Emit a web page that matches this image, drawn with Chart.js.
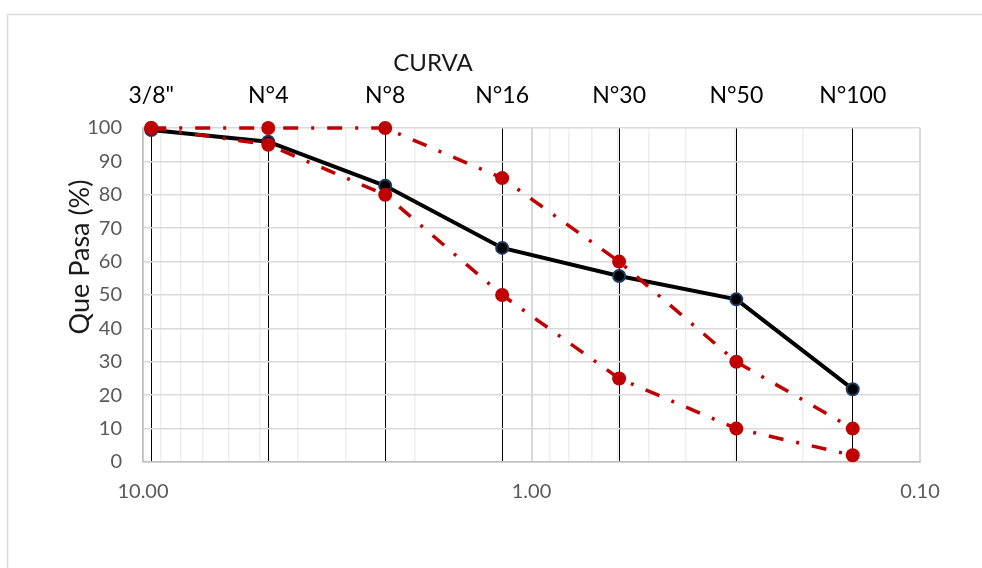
<!DOCTYPE html>
<html>
<head>
<meta charset="utf-8">
<script src="https://cdn.jsdelivr.net/npm/chart.js@4.4.1/dist/chart.umd.min.js"></script>
<style>
  html, body { margin: 0; padding: 0; background: #fff; }
  canvas { display: block; }
</style>
</head>
<body>
<canvas id="curva" width="982" height="568"></canvas>
<script>
// sieve openings (mm) and their names
const sieveSizes = [9.525, 4.76, 2.38, 1.19, 0.595, 0.297, 0.149];
const sieveLabels = ['3/8"', 'N°4', 'N°8', 'N°16', 'N°30', 'N°50', 'N°100'];

// % passing
const muestra = [99.4, 95.9, 82.7, 64.1, 55.7, 48.7, 21.8];
const limSup = [100, 100, 100, 85, 60, 30, 10];
const limInf = [100, 95, 80, 50, 25, 10, 2];

// bottom axis labels
const xLabelValues = [10, 1, 0.1];
const yTicks = [0, 10, 20, 30, 40, 50, 60, 70, 80, 90, 100];

const FONT = 'Lato, "Open Sans", sans-serif';
const RED = '#C00000';

function toPoints(vals) {
  return vals.map((v, i) => ({ x: sieveSizes[i], y: v }));
}

// log gridlines 0.1..10 (1..9 per decade)
function logGrid() {
  const out = [];
  [0.1, 1].forEach(d => {
    for (let m = 1; m <= 9; m++) out.push({ value: +(d * m).toFixed(3) });
  });
  out.push({ value: 10 });
  return out;
}

const decorations = {
  id: 'decorations',
  beforeDraw(chart) {
    const c = chart.ctx;
    c.save();
    c.strokeStyle = '#D9D9D9';
    c.lineWidth = 1.5;
    c.beginPath();
    c.moveTo(7.5, 568);
    c.lineTo(7.5, 14.5);
    c.lineTo(982, 14.5);
    c.stroke();
    c.restore();
  },
  afterDraw(chart) {
    const c = chart.ctx;
    c.save();
    c.fillStyle = '#1A1A1A';
    c.textAlign = 'center';
    c.textBaseline = 'middle';
    c.font = '24px ' + FONT;
    c.fillText('CURVA', 433, 63);
    c.translate(80, 257);
    c.rotate(-Math.PI / 2);
    c.font = '27px ' + FONT;
    c.fillText('Que Pasa (%)', 0, 0);
    c.restore();
  }
};

const chart = new Chart(document.getElementById('curva'), {
  type: 'line',
  data: {
    datasets: [
      {
        label: 'Muestra',
        data: toPoints(muestra),
        borderColor: '#000',
        borderWidth: 4,
        pointRadius: 6,
        pointBackgroundColor: '#000',
        pointBorderColor: '#1F3864',
        pointBorderWidth: 2,
        xAxisID: 'x', yAxisID: 'y',
        clip: false,
        order: 2
      },
      {
        label: 'Limite superior',
        data: toPoints(limSup),
        borderColor: RED,
        borderWidth: 3.5,
        borderDash: [15, 13, 3, 13],
        pointRadius: 7,
        pointBackgroundColor: RED,
        pointBorderColor: RED,
        pointBorderWidth: 0,
        xAxisID: 'x', yAxisID: 'y',
        clip: false,
        order: 1
      },
      {
        label: 'Limite inferior',
        data: toPoints(limInf),
        borderColor: RED,
        borderWidth: 3.5,
        borderDash: [15, 13, 3, 13],
        pointRadius: 7,
        pointBackgroundColor: RED,
        pointBorderColor: RED,
        pointBorderWidth: 0,
        xAxisID: 'x', yAxisID: 'y',
        clip: false,
        order: 1
      }
    ]
  },
  options: {
    responsive: false,
    animation: false,
    layout: { padding: { left: 0, right: 62, top: 0, bottom: 0 } },
    plugins: {
      legend: { display: false },
      tooltip: { enabled: false },
      title: { display: false }
    },
    scales: {
      x: {
        type: 'logarithmic',
        position: 'bottom',
        reverse: true,
        min: 0.1,
        max: 10,
        afterBuildTicks(scale) { scale.ticks = logGrid(); },
        afterFit(scale) { scale.height = 106; },
        border: { color: '#BFBFBF', width: 1.5 },
        grid: {
          drawTicks: false,
          color: ctx => (ctx.tick && xLabelValues.includes(ctx.tick.value)) ? '#D9D9D9' : '#EEEEEE',
          lineWidth: ctx => (ctx.tick && xLabelValues.includes(ctx.tick.value)) ? 2 : 1.5
        },
        ticks: {
          autoSkip: false,
          maxRotation: 0,
          padding: 18,
          color: '#595959',
          font: { family: FONT, size: 20 },
          callback: v => xLabelValues.includes(v) ? v.toFixed(2) : ''
        }
      },
      xTop: {
        type: 'logarithmic',
        position: 'top',
        reverse: true,
        min: 0.1,
        max: 10,
        afterBuildTicks(scale) { scale.ticks = sieveSizes.map(v => ({ value: v })); },
        afterFit(scale) { scale.height = 128; },
        border: { display: false },
        grid: { drawTicks: false, color: '#000', lineWidth: 1 },
        ticks: {
          autoSkip: false,
          maxRotation: 0,
          padding: 19,
          color: '#000',
          font: { family: FONT, size: 23 },
          callback: (v, i) => sieveLabels[i]
        }
      },
      y: {
        min: 0,
        max: 100,
        afterBuildTicks(scale) { scale.ticks = yTicks.map(v => ({ value: v })); },
        afterFit(scale) { scale.width = 143; },
        border: { color: '#BFBFBF', width: 1.5 },
        grid: { drawTicks: false, color: '#D9D9D9', lineWidth: 1.5 },
        ticks: {
          padding: 21,
          color: '#595959',
          font: { family: FONT, size: 20 }
        }
      }
    }
  },
  plugins: [decorations]
});
</script>
</body>
</html>
